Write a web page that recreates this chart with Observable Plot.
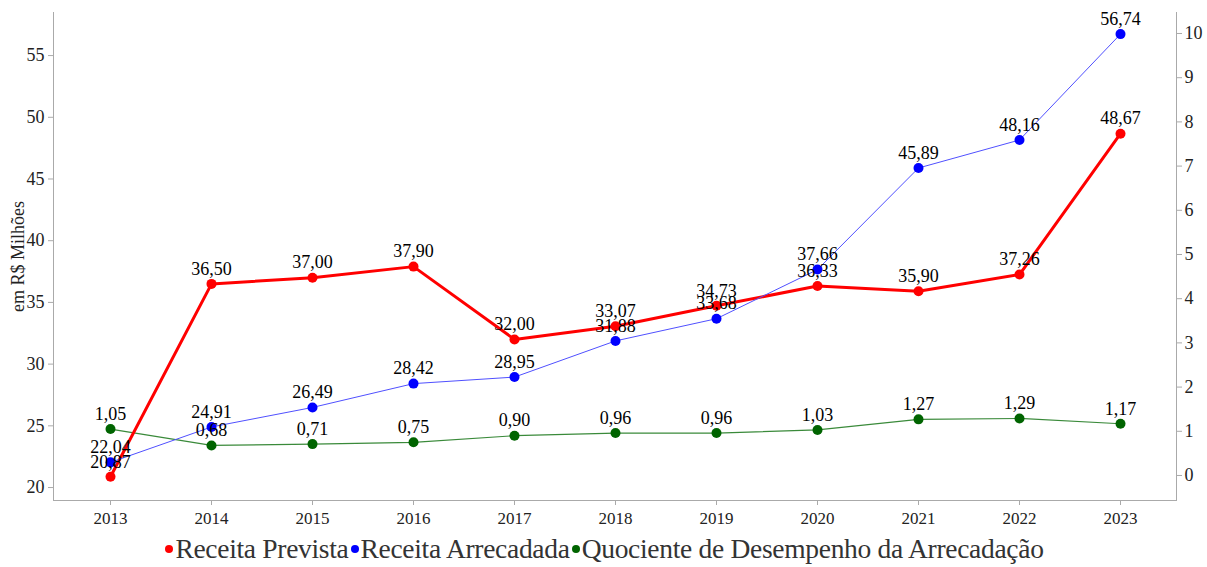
<!DOCTYPE html>
<html><head><meta charset="utf-8">
<script src="https://cdn.jsdelivr.net/npm/d3@7"></script>
<script src="https://cdn.jsdelivr.net/npm/@observablehq/plot@0.6"></script>
<style>
body{margin:0;background:#fff;font-family:'Liberation Serif',serif;}
#legend{display:flex;justify-content:center;align-items:center;font-family:'Liberation Serif',serif;font-size:27.5px;color:#333;margin-top:-7px;letter-spacing:-0.3px;}
#legend span.m{display:inline-block;width:8px;height:8px;border-radius:50%;margin:0 2px 0 2px;}
svg text{font-family:'Liberation Serif',serif;}
</style></head><body>
<div id="chart"></div>
<div id="legend"></div>
<script>
const years = ["2013","2014","2015","2016","2017","2018","2019","2020","2021","2022","2023"];
const prevista = [20.87,36.50,37.00,37.90,32.00,33.07,34.73,36.33,35.90,37.26,48.67];
const arrecadada = [22.04,24.91,26.49,28.42,28.95,31.88,33.68,37.66,45.89,48.16,56.74];
const quociente = [1.05,0.68,0.71,0.75,0.90,0.96,0.96,1.03,1.27,1.29,1.17];
const leftTicks = [20,25,30,35,40,45,50,55];
const rightTicks = [0,1,2,3,4,5,6,7,8,9,10];
const seriesNames = ["Receita Prevista","Receita Arrecadada","Quociente de Desempenho da Arrecadação"];
const colors = ["#ff0000","#0000ff","#006400"];

const L = [18.95, 58.49], R = [-0.566, 10.475];
const toL = q => L[0] + (q - R[0]) * (L[1]-L[0]) / (R[1]-R[0]);
const toR = v => R[0] + (v - L[0]) * (R[1]-R[0]) / (L[1]-L[0]);
const fmt = v => v.toFixed(2).replace(".", ",");

const dPrev = years.map((y,i)=>({x:y, v:prevista[i], lab:fmt(prevista[i])}));
const dArr = years.map((y,i)=>({x:y, v:arrecadada[i], lab:fmt(arrecadada[i])}));
const dQuo = years.map((y,i)=>({x:y, v:toL(quociente[i]), lab:fmt(quociente[i])}));

const font = "Liberation Serif";
const chart = Plot.plot({
  width:1207, height:540,
  marginLeft:53, marginRight:31, marginTop:12, marginBottom:40,
  style:{fontFamily:font, fontSize:"17px", color:"#222", background:"#fff"},
  x:{type:"point", domain:years, padding:0.543},
  y:{domain:L},
  marks:[
    Plot.frame({anchor:"left", stroke:"#aaa"}),
    Plot.frame({anchor:"right", stroke:"#aaa"}),
    Plot.frame({anchor:"bottom", stroke:"#aaa"}),
    Plot.axisX({tickSize:5, tickPadding:6, stroke:"#aaa", fontSize:17, fontFamily:font, label:null, fill:"#222"}),
    Plot.axisY(leftTicks, {anchor:"left", tickSize:5, tickPadding:4, fontSize:18, fontFamily:font, label:null, stroke:"#aaa", fill:"#222"}),
    Plot.axisY(rightTicks.map(toL), {anchor:"right", tickSize:5, tickPadding:3, fontSize:18, fontFamily:font, label:null, stroke:"#aaa", fill:"#222", tickFormat:d=>String(Math.round(toR(d)))}),
    Plot.text(["em R$ Milhões"], {frameAnchor:"left", textAnchor:"middle", dx:-35, rotate:-90, fontSize:18, fontFamily:font, fill:"#222"}),
    Plot.line(dQuo, {x:"x", y:"v", stroke:"#3a8a3a", strokeWidth:1.2}),
    Plot.dot(dQuo, {x:"x", y:"v", fill:colors[2], r:5}),
    Plot.line(dPrev, {x:"x", y:"v", stroke:colors[0], strokeWidth:3}),
    Plot.dot(dPrev, {x:"x", y:"v", fill:colors[0], r:5}),
    Plot.line(dArr, {x:"x", y:"v", stroke:"#5050ff", strokeWidth:1}),
    Plot.dot(dArr, {x:"x", y:"v", fill:colors[1], r:5}),
    Plot.text(dQuo, {x:"x", y:"v", text:"lab", dy:-15, fontSize:18, fontFamily:font, fill:"#000"}),
    Plot.text(dPrev, {x:"x", y:"v", text:"lab", dy:-15, fontSize:18, fontFamily:font, fill:"#000"}),
    Plot.text(dArr, {x:"x", y:"v", text:"lab", dy:-15, fontSize:18, fontFamily:font, fill:"#000"})
  ]
});
document.getElementById("chart").appendChild(chart);
const lg = document.getElementById("legend");
seriesNames.forEach((n,i)=>{
  const m = document.createElement("span"); m.className="m"; m.style.background=colors[i];
  const t = document.createElement("span"); t.textContent=n;
  lg.appendChild(m); lg.appendChild(t);
});
</script>
</body></html>
